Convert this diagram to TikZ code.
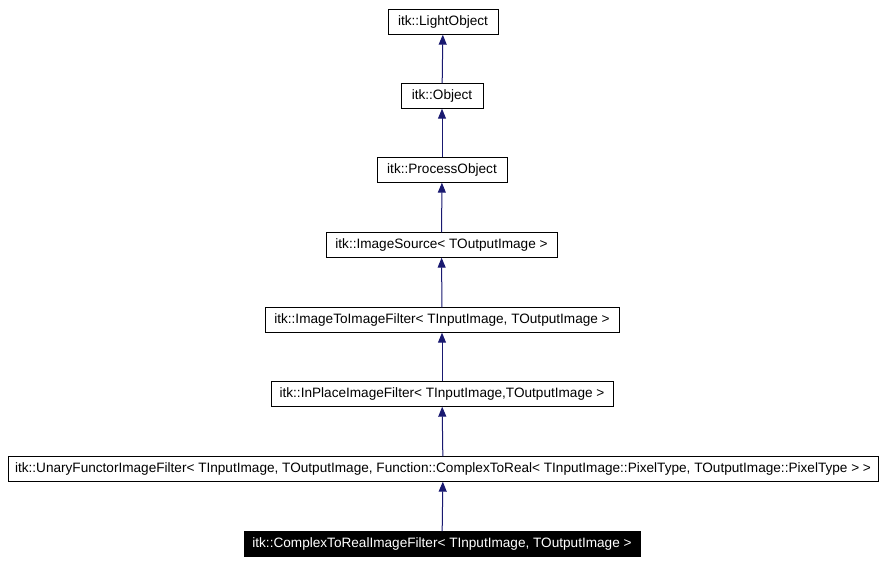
\documentclass[tikz,border=0pt]{standalone}
\usepackage{fontspec}
\setmainfont{Liberation Sans}
\usetikzlibrary{arrows.meta,positioning}
\definecolor{edgeblue}{RGB}{25,25,112}
\tikzset{
  cls/.style={draw=black, fill=white, inner sep=0pt, minimum height=25pt, font=\fontsize{13.6}{15}\selectfont},
  cur/.style={cls, fill=black, text=white},
  inherit/.style={edgeblue, line width=1pt, -{Triangle[length=10pt,width=8pt]}}
}
\begin{document}
\begin{tikzpicture}[x=1pt, y=-1pt]
  \useasboundingbox (0,0) rectangle (884,564);
  \node[cls, minimum width=110pt] (light) at (443,22) {itk::LightObject};
  \node[cls, minimum width=82pt] (obj) at (442,96) {itk::Object};
  \node[cls, minimum width=130pt] (proc) at (442,170) {itk::ProcessObject};
  \node[cls, minimum width=231pt] (src) at (441.5,245) {itk::ImageSource< TOutputImage >};
  \node[cls, minimum width=354pt] (i2i) at (442,320) {itk::ImageToImageFilter< TInputImage, TOutputImage >};
  \node[cls, minimum width=342pt] (inplace) at (442,394) {itk::InPlaceImageFilter< TInputImage,TOutputImage >};
  \node[cls, minimum width=870pt] (unary) at (443,469) {itk::UnaryFunctorImageFilter< TInputImage, TOutputImage, Function::ComplexToReal< TInputImage::PixelType, TOutputImage::PixelType > >};
  \node[cur, minimum width=396pt] (c2r) at (442,544) {itk::ComplexToRealImageFilter< TInputImage, TOutputImage >};

  \draw[inherit] (obj) -- (light);
  \draw[inherit] (proc) -- (obj);
  \draw[inherit] (src) -- (proc);
  \draw[inherit] (i2i) -- (src);
  \draw[inherit] (inplace) -- (i2i);
  \draw[inherit] (unary) -- (inplace);
  \draw[inherit] (c2r) -- (unary);
\end{tikzpicture}
\end{document}
